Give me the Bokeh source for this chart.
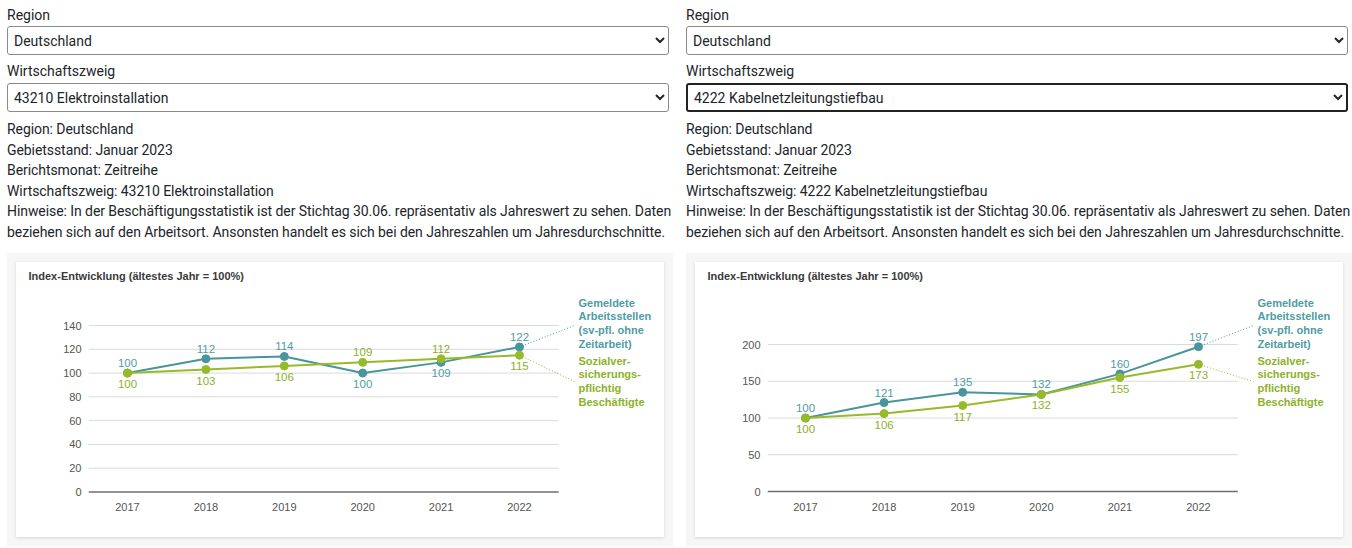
from bokeh.plotting import figure
from bokeh.models import Div, Column, Row, FixedTicker, Spacer
from bokeh.embed import file_html
from bokeh.resources import INLINE
from bokeh.core.properties import value

# ---------------- data ----------------
years = [2017, 2018, 2019, 2020, 2021, 2022]
year_labels = ["2017", "2018", "2019", "2020", "2021", "2022"]

left_stellen = [100, 112, 114, 100, 109, 122]
left_beschaeftigte = [100, 103, 106, 109, 112, 115]
left_yticks = [0, 20, 40, 60, 80, 100, 120, 140]

right_stellen = [100, 121, 135, 132, 160, 197]
right_beschaeftigte = [100, 106, 117, 132, 155, 173]
right_yticks = [0, 50, 100, 150, 200]

region_label = "Region"
branch_label = "Wirtschaftszweig"
region = "Deutschland"
left_branch = "43210 Elektroinstallation"
right_branch = "4222 Kabelnetzleitungstiefbau"
info_lines = [
    "Region: Deutschland",
    "Gebietsstand: Januar 2023",
    "Berichtsmonat: Zeitreihe",
    "Wirtschaftszweig: {branch}",
    "Hinweise: In der Beschäftigungsstatistik ist der Stichtag 30.06. repräsentativ als Jahreswert zu sehen. Daten",
    "beziehen sich auf den Arbeitsort. Ansonsten handelt es sich bei den Jahreszahlen um Jahresdurchschnitte.",
]
chart_title = "Index-Entwicklung (ältestes Jahr = 100%)"
legend_stellen = "Gemeldete\nArbeitsstellen\n(sv-pfl. ohne\nZeitarbeit)"
legend_besch = "Sozialver-\nsicherungs-\npflichtig\nBeschäftigte"

# ---------------- styles ----------------
TEAL = "#48959b"
TEAL_TXT = "#4f9ca3"
GREEN = "#97ba2a"
GREEN_TXT = "#8cb22a"
GRID = "#dadada"
ZERO = "#6f6f6f"
TICK = "#555555"
CHART_FONT = "Liberation Sans"


def make_chart(stellen, besch, yticks, ppy, zero_py, x2017_px, ppx):
    W, H = 648, 275
    FL, FT, FB = 72, 28, 233
    x_start = years[0] - (x2017_px - FL) / ppx
    x_end = x_start + (W - FL) / ppx
    y_start = -(FB - zero_py) / ppy
    y_end = (zero_py - FT) / ppy

    p = figure(width=W, height=H, x_range=(x_start, x_end), y_range=(y_start, y_end),
               output_backend="svg", toolbar_location=None,
               min_border_left=FL, min_border_right=0, min_border_top=FT,
               min_border_bottom=H - FB,
               background_fill_color="white", border_fill_color="white",
               outline_line_color=None)
    p.styles = {"box-shadow": "0 1px 3px rgba(0,0,0,0.13), 0 0 0 9px #f6f6f6"}

    p.title.text = chart_title
    p.title.text_font = CHART_FONT
    p.title.text_font_size = "11px"
    p.title.text_font_style = "bold"
    p.title.text_color = "#3a3a3a"
    p.title.align = "left"
    p.title.vertical_align = "top"
    p.title.offset = 12 - FL
    p.title.standoff = 14

    p.xgrid.visible = False
    p.ygrid.visible = False

    for ax in (p.xaxis[0], p.yaxis[0]):
        ax.axis_line_color = None
        ax.major_tick_line_color = None
        ax.minor_tick_line_color = None
        ax.major_tick_out = 0
        ax.major_tick_in = 0
        ax.minor_tick_out = 0
        ax.minor_tick_in = 0
        ax.major_label_text_font = CHART_FONT
        ax.major_label_text_font_size = "11px"
        ax.major_label_text_color = TICK
    p.xaxis.ticker = FixedTicker(ticks=years)
    p.xaxis.major_label_overrides = {y: l for y, l in zip(years, year_labels)}
    p.xaxis.major_label_standoff = 7
    p.yaxis.ticker = FixedTicker(ticks=yticks)
    p.yaxis.major_label_standoff = 7

    # gridlines limited to the category span
    gx1 = years[-1] + 0.5
    grid_y = [t for t in yticks if t != 0]
    p.segment(x0=[x_start] * len(grid_y), x1=[gx1] * len(grid_y), y0=grid_y, y1=grid_y,
              line_color=GRID, line_width=1)
    p.segment(x0=[x_start], x1=[gx1], y0=[0], y1=[0], line_color=ZERO, line_width=1.6)

    def px2x(px):
        return x_start + (px - FL) / ppx

    def py2y(py):
        return (zero_py - py) / ppy

    # connectors to the right-hand labels
    p.segment(x0=[years[-1]], y0=[stellen[-1]], x1=[px2x(558)], y1=[py2y(63)],
              line_color=TEAL, line_width=1, line_dash="1 2")
    p.segment(x0=[years[-1]], y0=[besch[-1]], x1=[px2x(558)], y1=[py2y(119)],
              line_color=GREEN, line_width=1, line_dash="1 2")

    # lines and points
    p.line(years, stellen, line_color=TEAL, line_width=2)
    p.scatter(years, stellen, size=8, fill_color=TEAL, line_color=TEAL)
    p.line(years, besch, line_color=GREEN, line_width=2)
    p.scatter(years, besch, size=8, fill_color=GREEN, line_color=GREEN)

    # value labels: higher series above, lower below
    ax_, ay_, at_, ac_ = [], [], [], []
    bx_, by_, bt_, bc_ = [], [], [], []
    for yr, s, b in zip(years, stellen, besch):
        if s >= b:
            ax_.append(yr); ay_.append(s); at_.append(str(s)); ac_.append(TEAL_TXT)
            bx_.append(yr); by_.append(b); bt_.append(str(b)); bc_.append(GREEN_TXT)
        else:
            ax_.append(yr); ay_.append(b); at_.append(str(b)); ac_.append(GREEN_TXT)
            bx_.append(yr); by_.append(s); bt_.append(str(s)); bc_.append(TEAL_TXT)
    p.text(x=ax_, y=ay_, text=at_, text_color=ac_, text_align="center",
           text_baseline="bottom", y_offset=-6, text_font=value(CHART_FONT),
           text_font_size="11.5px")
    p.text(x=bx_, y=by_, text=bt_, text_color=bc_, text_align="center",
           text_baseline="top", y_offset=7, text_font=value(CHART_FONT),
           text_font_size="11.5px")

    # series labels on the right
    p.text(x=[px2x(562)], y=[py2y(34)], text=[legend_stellen], text_color=TEAL_TXT,
           text_align="left", text_baseline="top", text_font=value(CHART_FONT),
           text_font_size="11px", text_font_style="bold", text_line_height=1.14)
    p.text(x=[px2x(562)], y=[py2y(92)], text=[legend_besch], text_color=GREEN_TXT,
           text_align="left", text_baseline="top", text_font=value(CHART_FONT),
           text_font_size="11px", text_font_style="bold", text_line_height=1.14)
    return p


def make_top(branch, focused):
    sel = ("display:block;width:100%;height:29px;box-sizing:border-box;"
           "border:1px solid #8a8a8a;border-radius:3px;background:#fff;"
           "font-family:Roboto;font-size:14px;color:#212529;padding:0 2px;margin:0;")
    sel2 = sel + ("border:2px solid #222;" if focused else "")
    lines = "".join(
        f'<div style="line-height:20.6px;white-space:nowrap;letter-spacing:-0.07px;">'
        f'{l.format(branch=branch)}</div>'
        for l in info_lines)
    html = (
        '<div style="font-family:Roboto;font-size:14px;color:#212529;width:664px;'
        'padding:3px 0 0 2px;">'
        f'<div style="line-height:15px;margin:0 0 3px 0;">{region_label}</div>'
        f'<select style="{sel}"><option>{region}</option></select>'
        f'<div style="line-height:15px;margin:9px 0 4px 0;">{branch_label}</div>'
        f'<select style="{sel2}"><option>{branch}</option></select>'
        f'<div style="margin-top:7px;">{lines}</div>'
        '</div>')
    return Div(text=html, width=666, height=247)


left_chart = make_chart(left_stellen, left_beschaeftigte, left_yticks,
                        ppy=166.5 / 140, zero_py=229.5, x2017_px=111, ppx=78.4)
right_chart = make_chart(right_stellen, right_beschaeftigte, right_yticks,
                         ppy=147.0 / 200, zero_py=229.0, x2017_px=110, ppx=78.6)

top_row = Row(children=[make_top(left_branch, False), make_top(right_branch, True)],
              spacing=3)
chart_row = Row(children=[Spacer(width=16, height=10), left_chart,
                          Spacer(width=31, height=10), right_chart], spacing=0)

page = Column(children=[top_row, Spacer(width=10, height=5), chart_row], spacing=0)

open("out.html", "w").write(file_html(page, INLINE))
